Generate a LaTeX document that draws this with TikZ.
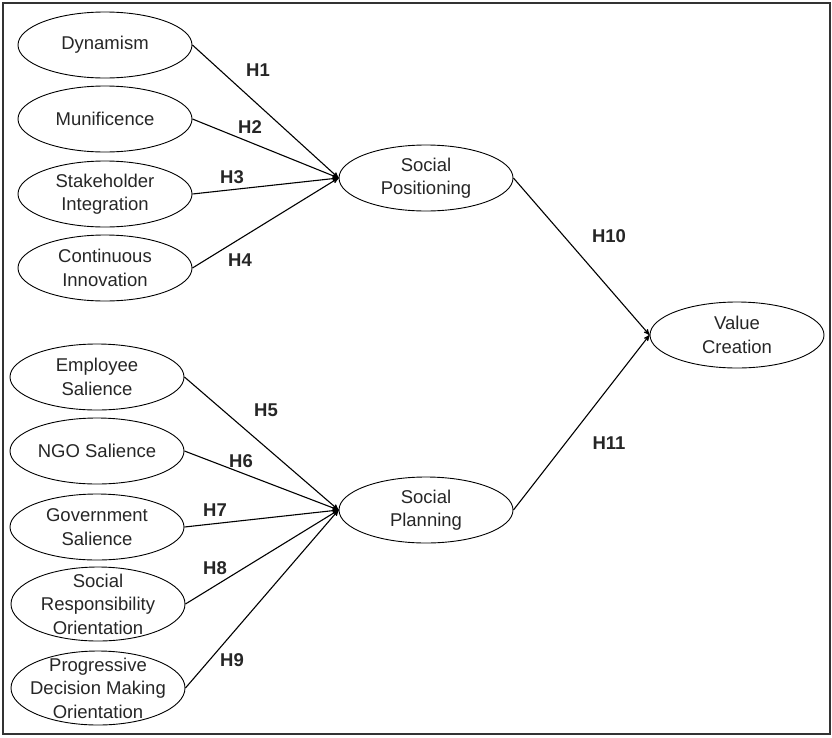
\documentclass[tikz,border=0pt]{standalone}
\usepackage{fontspec}
\setmainfont{Liberation Sans}
\usepackage{tikz}
\usetikzlibrary{arrows}
\usetikzlibrary{shapes.geometric}
\tikzset{
	construct/.style={ellipse,draw,line width=0.9pt,inner sep=0pt,align=center,
		minimum width=174pt,minimum height=66pt,text=black!85,
		font=\fontsize{18.5}{23.5}\selectfont},
	tall/.style={minimum height=74pt,inner xsep=-8pt,inner ysep=-10pt},
	hyp/.style={font=\fontsize{18.5}{22}\selectfont\bfseries,text=black!85},
	path/.style={->,line width=1.1pt}
}
\begin{document}
\begin{tikzpicture}[>=stealth',x=1pt,y=-1pt]
			\useasboundingbox(0,0)rectangle(832,737);
			\draw[line width=1.6pt,black!80](3,3)rectangle(830,734);
			\node[construct](dyn)at(105,45){Dynamism};
			\node[construct](mun)at(105,119){Munificence};
			\node[construct](sti)at(105,194){Stakeholder\\Integration};
			\node[construct](coi)at(105,268){Continuous\\Innovation};
			\node[construct](emp)at(97,377){Employee\\Salience};
			\node[construct](ngo)at(97,451){NGO Salience};
			\node[construct](gov)at(97,527){Government\\Salience};
			\node[construct,tall](sro)at(98,604){Social\\Responsibility\\Orientation};
			\node[construct,tall](pdm)at(98,688){Progressive\\Decision Making\\Orientation};
			\node[construct](spo)at(426,178){Social\\Positioning};
			\node[construct](spl)at(426,510){Social\\Planning};
			\node[construct](vcr)at(737,335){Value\\Creation};
			\draw[path](dyn.east)--(spo.west);
			\draw[path](mun.east)--(spo.west);
			\draw[path](sti.east)--(spo.west);
			\draw[path](coi.east)--(spo.west);
			\draw[path](emp.east)--(spl.west);
			\draw[path](ngo.east)--(spl.west);
			\draw[path](gov.east)--(spl.west);
			\draw[path](sro.east)--(spl.west);
			\draw[path](pdm.east)--(spl.west);
			\draw[path](spo.east)--(vcr.west);
			\draw[path](spl.east)--(vcr.west);
			\node[hyp](h1)at(258,70){H1};
			\node[hyp](h2)at(250,127){H2};
			\node[hyp](h3)at(232,177){H3};
			\node[hyp](h4)at(240,260){H4};
			\node[hyp](h5)at(266,410){H5};
			\node[hyp](h6)at(241,461){H6};
			\node[hyp](h7)at(215,510){H7};
			\node[hyp](h8)at(215,568){H8};
			\node[hyp](h9)at(232,660){H9};
			\node[hyp](h10)at(609,236){H10};
			\node[hyp](h11)at(609,443){H11};
		\end{tikzpicture}
\end{document}
